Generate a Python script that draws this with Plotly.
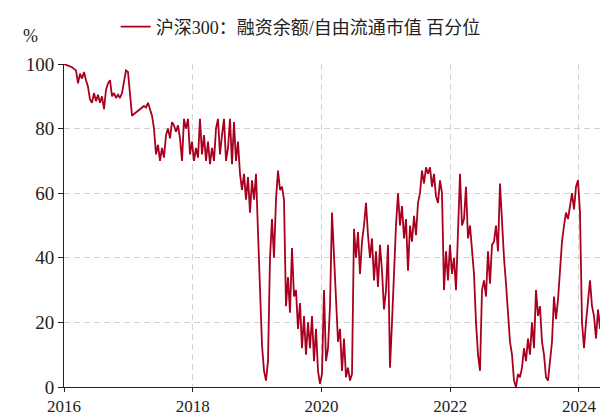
import pandas as pd
import plotly.graph_objects as go

series_name = "沪深300：融资余额/自由流通市值 百分位"
start_date = "2016-01-01"
end_date = "2024-06-14"

values = [
    100, 99.8, 99.5, 99.2, 99, 98.5, 98, 94, 97, 95.5, 97.5, 95, 93, 89, 88,
    91, 88.5, 90.5, 88, 90, 86, 92, 94, 95, 90, 91, 89.5, 90.5, 89.5, 91,
    95, 98, 97.5, 90, 84, 84.5, 85, 85.5, 86, 86.5, 87, 86.5, 88, 86, 84,
    80, 72, 75, 70, 74, 71, 78, 80, 77, 82, 81, 79, 81, 77, 70,
    83, 80, 83, 72, 76, 70, 74, 71, 83, 72, 78, 70, 76, 69, 74,
    70, 80, 83, 72, 78, 83, 70, 74, 83, 69, 82, 70, 76, 66, 61,
    66, 58, 65, 54, 64, 58, 66, 48, 30, 13, 5, 2, 8, 40, 52,
    40, 58, 67, 61, 62, 58, 25, 34, 23, 43, 28, 30, 18, 26, 12,
    22, 10, 20, 12, 22, 8, 18, 5, 1, 4, 30, 8, 12, 25, 54,
    40, 30, 14, 18, 5, 15, 3, 6, 2, 4, 49, 40, 48, 35, 45,
    50, 57, 47, 40, 46, 33, 42, 31, 44, 36, 24, 30, 44, 6, 20,
    38, 50, 60, 50, 56, 46, 52, 36, 50, 45, 53, 47, 57, 60, 67,
    63, 68, 66, 68, 62, 66, 59, 57, 64, 60, 30, 42, 33, 44, 35,
    40, 30, 48, 66, 50, 52, 62, 46, 50, 42, 35, 20, 10, 5, 30,
    33, 28, 42, 32, 44, 45, 50, 42, 63, 50, 40, 32, 22, 14, 10,
    2, 0, 4, 3, 6, 12, 8, 15, 10, 20, 12, 30, 22, 25, 14,
    10, 3, 2, 8, 14, 28, 21, 27, 36, 45, 50, 54, 52, 56, 60,
    55, 62, 64, 54, 20, 12, 20, 28, 33, 25, 22, 15, 24, 18, 29,
    24, 28, 20,
]

dates = pd.date_range(start_date, end_date, periods=len(values))

year_ticks = ["2016-01-01", "2018-01-01", "2020-01-01", "2022-01-01", "2024-01-01"]
year_labels = ["2016", "2018", "2020", "2022", "2024"]
y_ticks = [0, 20, 40, 60, 80, 100]

fig = go.Figure()
fig.add_trace(go.Scatter(
    x=dates, y=values, mode="lines", name=series_name,
    line=dict(color="#A8001E", width=1.8),
))

serif = "Liberation Serif"
mixed = "Liberation Serif, Noto Sans CJK SC"

fig.update_layout(
    template="none",
    width=600, height=410,
    margin=dict(l=56, r=0, t=50, b=31),
    paper_bgcolor="white", plot_bgcolor="white",
    font=dict(family=serif, size=18, color="#222222"),
    showlegend=True,
    legend=dict(
        orientation="h", x=0.095, y=1.115, xanchor="left", yanchor="middle",
        font=dict(family=mixed, size=18, color="#222222"),
        bgcolor="rgba(0,0,0,0)",
    ),
    xaxis=dict(
        range=[start_date, end_date],
        tickmode="array", tickvals=year_ticks, ticktext=year_labels,
        showgrid=True, gridcolor="#d3d3d3", griddash="6px,4px", gridwidth=1,
        showline=True, linecolor="#222222", linewidth=1,
        ticks="outside", ticklen=4, tickcolor="#222222",
        zeroline=False,
        tickfont=dict(family=serif, size=17, color="#222222"),
    ),
    yaxis=dict(
        range=[0, 100], tickmode="array", tickvals=y_ticks,
        showgrid=True, gridcolor="#d3d3d3", griddash="6px,4px", gridwidth=1,
        showline=True, linecolor="#222222", linewidth=1,
        ticks="outside", ticklen=5, tickcolor="#222222",
        zeroline=False,
        tickfont=dict(family=serif, size=19, color="#222222"),
    ),
    annotations=[dict(
        text="%", xref="paper", yref="paper", x=-0.062, y=1.088,
        xanchor="center", yanchor="middle", showarrow=False,
        font=dict(family=serif, size=18, color="#222222"),
    )],
)

fig.write_html("out.html")
